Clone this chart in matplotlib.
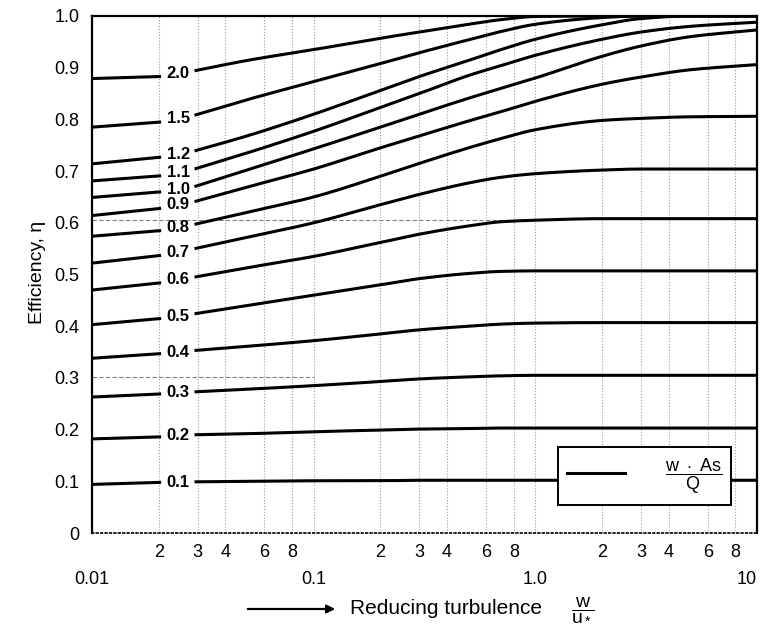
import numpy as np
import matplotlib
matplotlib.use("Agg")
import matplotlib.pyplot as plt
from matplotlib.lines import Line2D

plt.rcParams['font.family'] = ['Liberation Sans', 'DejaVu Sans']
plt.rcParams['mathtext.fontset'] = 'custom'
plt.rcParams['mathtext.rm'] = 'Liberation Sans'
plt.rcParams['mathtext.it'] = 'Liberation Sans:italic'

# w*As/Q value of each curve
ratios = [0.1, 0.2, 0.3, 0.4, 0.5, 0.6, 0.7, 0.8, 0.9, 1.0, 1.1, 1.2, 1.5, 2.0]
curve_labels = ["0.1", "0.2", "0.3", "0.4", "0.5", "0.6", "0.7", "0.8",
                "0.9", "1.0", "1.1", "1.2", "1.5", "2.0"]

# each curve is broken where its label sits
x_left = [0.01, 0.0205]
x_right = [0.029, 0.05, 0.1, 0.2, 0.3, 0.5, 0.7, 1.0, 2.0, 3.0, 5.0, 10.0]

eta_left = [
    [0.094, 0.098],
    [0.182, 0.186],
    [0.263, 0.269],
    [0.338, 0.347],
    [0.403, 0.415],
    [0.470, 0.484],
    [0.522, 0.537],
    [0.574, 0.585],
    [0.614, 0.628],
    [0.649, 0.660],
    [0.681, 0.691],
    [0.714, 0.727],
    [0.785, 0.795],
    [0.879, 0.883],
]

eta_right = [
    [0.099, 0.100, 0.101, 0.101, 0.102, 0.102, 0.102, 0.102, 0.102, 0.102, 0.102, 0.102],
    [0.190, 0.192, 0.196, 0.199, 0.201, 0.202, 0.203, 0.203, 0.203, 0.203, 0.203, 0.203],
    [0.273, 0.278, 0.285, 0.293, 0.298, 0.302, 0.304, 0.305, 0.305, 0.305, 0.305, 0.305],
    [0.353, 0.361, 0.372, 0.385, 0.393, 0.400, 0.404, 0.406, 0.407, 0.407, 0.407, 0.407],
    [0.424, 0.440, 0.460, 0.480, 0.492, 0.502, 0.506, 0.507, 0.507, 0.507, 0.507, 0.507],
    [0.495, 0.513, 0.535, 0.562, 0.578, 0.594, 0.602, 0.605, 0.608, 0.608, 0.608, 0.608],
    [0.550, 0.572, 0.600, 0.635, 0.655, 0.677, 0.688, 0.695, 0.702, 0.704, 0.704, 0.704],
    [0.597, 0.620, 0.650, 0.690, 0.715, 0.745, 0.763, 0.780, 0.798, 0.802, 0.805, 0.806],
    [0.641, 0.669, 0.704, 0.745, 0.768, 0.797, 0.815, 0.835, 0.868, 0.882, 0.896, 0.906],
    [0.670, 0.702, 0.743, 0.785, 0.810, 0.841, 0.860, 0.880, 0.922, 0.942, 0.960, 0.973],
    [0.704, 0.735, 0.777, 0.823, 0.850, 0.885, 0.904, 0.924, 0.955, 0.969, 0.980, 0.988],
    [0.739, 0.768, 0.810, 0.856, 0.883, 0.914, 0.935, 0.955, 0.983, 0.995, 1.000, 1.000],
    [0.808, 0.838, 0.873, 0.908, 0.929, 0.954, 0.970, 0.984, 0.997, 1.000, 1.000, 1.000],
    [0.894, 0.914, 0.935, 0.957, 0.969, 0.984, 0.993, 0.999, 1.000, 1.000, 1.000, 1.000],
]

y_ticks = [0, 0.1, 0.2, 0.3, 0.4, 0.5, 0.6, 0.7, 0.8, 0.9, 1.0]
y_ticklabels = ["0", "0.1", "0.2", "0.3", "0.4", "0.5", "0.6", "0.7", "0.8", "0.9", "1.0"]
x_major = [0.01, 0.1, 1.0, 10.0]
x_major_labels = ["0.01", "0.1", "1.0", "10"]
x_minor_digits = [2, 3, 4, 6, 8]


def smooth(xs, ys, xq):
    # monotone cubic through the read points (in log x)
    x = np.asarray(xs, float)
    y = np.asarray(ys, float)
    h = np.diff(x)
    d = np.diff(y) / h
    m = np.zeros_like(y)
    m[0], m[-1] = d[0], d[-1]
    for k in range(1, len(y) - 1):
        if d[k - 1] * d[k] > 0:
            w1 = 2 * h[k] + h[k - 1]
            w2 = h[k] + 2 * h[k - 1]
            m[k] = (w1 + w2) / (w1 / d[k - 1] + w2 / d[k])
    i = np.clip(np.searchsorted(x, xq) - 1, 0, len(h) - 1)
    t = (xq - x[i]) / h[i]
    return ((2 * t**3 - 3 * t**2 + 1) * y[i] + (t**3 - 2 * t**2 + t) * h[i] * m[i]
            + (-2 * t**3 + 3 * t**2) * y[i + 1] + (t**3 - t**2) * h[i] * m[i + 1])


fig = plt.figure(figsize=(7.63, 6.25), dpi=100)
ax = fig.add_axes([0.1206, 0.1472, 0.8715, 0.8272])
ax.set_xscale('log')
ax.set_xlim(0.01, 10)
ax.set_ylim(0, 1.0)

# faint scan grid
ax.grid(True, which='both', axis='x', ls=':', color='0.6', lw=0.8)
ax.hlines(0.606, 0.01, 0.9, colors='0.5', linestyles=(0, (4, 2)), lw=0.8)
ax.hlines(0.302, 0.01, 0.1, colors='0.5', linestyles=(0, (4, 2)), lw=0.8)

rx = np.log10(x_right)
rq = np.linspace(rx[0], rx[-1], 300)
for r, lab, el, er in zip(ratios, curve_labels, eta_left, eta_right):
    ax.plot(x_left, el, color='k', lw=2.2, solid_capstyle='butt')
    ax.plot(10 ** rq, np.minimum(smooth(rx, er, rq), 1.0), color='k', lw=2.2,
            solid_capstyle='butt')
    ax.text(0.0245, (el[-1] + er[0]) / 2, lab, ha='center', va='center',
            fontsize=12, fontweight='bold')

ax.set_yticks(y_ticks)
ax.set_yticklabels(y_ticklabels)
ax.set_xticks(x_major)
ax.set_xticklabels(x_major_labels)
ax.get_xticklabels()[-1].set_horizontalalignment('right')
minor = [d * 10.0 ** e for e in (-2, -1, 0) for d in x_minor_digits]
ax.set_xticks(minor, minor=True)
ax.set_xticklabels([str(int(round(v / 10 ** np.floor(np.log10(v))))) for v in minor],
                   minor=True)
ax.tick_params(axis='y', length=0, pad=9, labelsize=13)
ax.tick_params(axis='x', which='major', length=0, pad=27, labelsize=13)
ax.tick_params(axis='x', which='minor', length=0, pad=8, labelsize=13)

for s in ('left', 'top', 'right'):
    ax.spines[s].set_linewidth(1.6)
ax.spines['bottom'].set_linestyle(':')
ax.spines['bottom'].set_linewidth(1.2)

leg = ax.legend(handles=[Line2D([], [], color='k', lw=2.2)],
                labels=[r'$\dfrac{\mathrm{w\ \cdot\ As}}{\mathrm{Q}}$'],
                loc='lower right', bbox_to_anchor=(0.961, 0.054),
                borderaxespad=0, fancybox=False, framealpha=1, edgecolor='k',
                fontsize=13, handlelength=3.2, handletextpad=2.2, borderpad=0.5)
leg.get_frame().set_linewidth(1.4)

fig.text(37 / 763, 1 - 272 / 625, 'Efficiency, \u03b7', rotation=90,
         ha='center', va='center', fontsize=14)
ax.annotate('', xy=(338 / 763, 1 - 609 / 625), xytext=(245 / 763, 1 - 609 / 625),
            xycoords='figure fraction',
            arrowprops=dict(arrowstyle='-|>', lw=1.6, color='k', mutation_scale=12))
fig.text(350 / 763, 1 - 609 / 625, 'Reducing turbulence', ha='left', va='center',
         fontsize=15)
fig.text(583 / 763, 1 - 609 / 625, r'$\dfrac{\mathrm{w}}{\mathrm{u_*}}$',
         ha='center', va='center', fontsize=14)

fig.savefig('out.png', dpi=100)
